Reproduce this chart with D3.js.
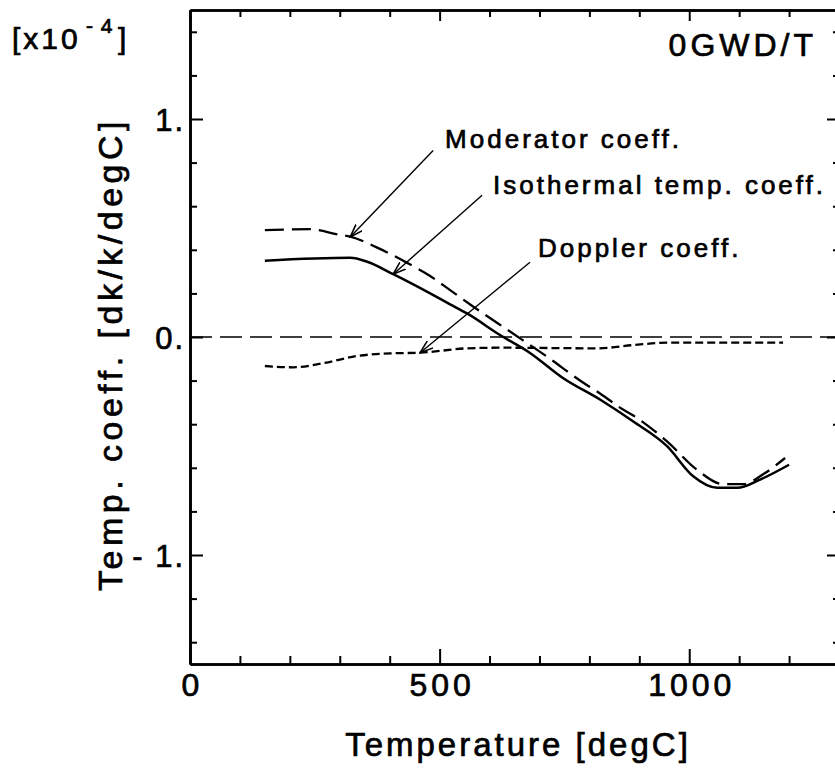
<!DOCTYPE html>
<html>
<head>
<meta charset="utf-8">
<script src="https://cdn.jsdelivr.net/npm/d3@7"></script>
<style>
  body { margin: 0; background: #fff; }
  text { font-family: "Liberation Sans", Arial, Helvetica, sans-serif; fill: #000; stroke: #000; stroke-width: 0.7px; }
</style>
</head>
<body>
<div id="chart"></div>
<script>
// values (unit: 1e-4 dk/k/degC)
var moderatorT = [150, 240, 297, 321, 375, 435, 481, 521, 567, 641, 715, 788, 822, 862, 888, 956, 1016, 1068, 1108, 1148, 1192];
var moderatorK = [0.49, 0.495, 0.47, 0.46, 0.41, 0.34, 0.28, 0.215, 0.14, 0.025, -0.09, -0.21, -0.26, -0.325, -0.36, -0.48, -0.61, -0.675, -0.675, -0.63, -0.555];

var isothermalT = [150, 321, 355, 407, 481, 521, 555, 621, 681, 747, 822, 888, 956, 1008, 1056, 1096, 1142, 1200];
var isothermalK = [0.35, 0.363, 0.345, 0.288, 0.2, 0.15, 0.108, 0.009, -0.073, -0.188, -0.288, -0.388, -0.502, -0.639, -0.692, -0.692, -0.654, -0.586];

var dopplerT = [150, 206, 267, 335, 401, 461, 555, 621, 816, 888, 956, 1188];
var dopplerK = [-0.133, -0.139, -0.12, -0.087, -0.075, -0.072, -0.052, -0.049, -0.052, -0.037, -0.026, -0.026];

var xMajor = [0, 500, 1000];
var xMinor = [100, 200, 300, 400, 600, 700, 800, 900, 1100, 1200];
var yMajor = [-1, 0, 1];
var yMinor = [-1.4, -1.2, -0.8, -0.6, -0.4, -0.2, 0.2, 0.4, 0.6, 0.8, 1.2, 1.4];
var yLabels = {"-1": "- 1.", "0": "0.", "1": "1."};

// arrow notes: label, where the text starts, where the arrow starts and where it points (data units)
var notes = [
    {text: "Moderator coeff.",         tx: 511, ty: 0.865, x0: 487, y0: 0.856, x1: 321, y1: 0.459},
    {text: "Isothermal temp. coeff.",  tx: 607, ty: 0.654, x0: 585, y0: 0.650, x1: 407, y1: 0.288},
    {text: "Doppler coeff.",           tx: 697, ty: 0.366, x0: 681, y0: 0.343, x1: 461, y1: -0.072}
];

var width = 835, height = 769;
var svg = d3.select("#chart").append("svg")
    .attr("width", width).attr("height", height);

var x = d3.scaleLinear().domain([0, 1300]).range([190, 839]);
var y = d3.scaleLinear().domain([-1.5, 1.5]).range([664, 10]);

svg.append("defs").append("marker")
    .attr("id", "head")
    .attr("viewBox", "0 0 14 10")
    .attr("refX", 13).attr("refY", 5)
    .attr("markerWidth", 14).attr("markerHeight", 10)
    .attr("markerUnits", "userSpaceOnUse")
    .attr("orient", "auto")
  .append("path")
    .attr("d", "M0,0.5L13,5L0,9.5")
    .attr("fill", "none").attr("stroke", "#000").attr("stroke-width", 1.6);

// axes, ticks pointing inward
function styleAxis(g) {
    g.select(".domain").attr("stroke-width", 2.6);
    g.selectAll(".tick line").attr("stroke-width", 2);
}

svg.append("g").attr("transform", "translate(0,664)")
    .call(d3.axisBottom(x).tickValues(xMinor).tickSize(-8).tickSizeOuter(0).tickFormat(""))
    .call(styleAxis);
svg.append("g").attr("transform", "translate(0,664)")
    .call(d3.axisBottom(x).tickValues(xMajor).tickSize(-15).tickSizeOuter(0).tickPadding(9).tickFormat(d3.format("d")))
    .call(styleAxis)
    .selectAll("text").attr("font-size", 32).attr("dx", "2px").style("letter-spacing", "4px");

svg.append("g").attr("transform", "translate(0,10)")
    .call(d3.axisTop(x).tickValues(xMinor).tickSize(-7).tickSizeOuter(0).tickFormat(""))
    .call(styleAxis);
svg.append("g").attr("transform", "translate(0,10)")
    .call(d3.axisTop(x).tickValues(xMajor).tickSize(-11).tickSizeOuter(0).tickFormat(""))
    .call(styleAxis);

svg.append("g").attr("transform", "translate(190,0)")
    .call(d3.axisLeft(y).tickValues(yMinor).tickSize(-7).tickSizeOuter(0).tickFormat(""))
    .call(styleAxis);
svg.append("g").attr("transform", "translate(190,0)")
    .call(d3.axisLeft(y).tickValues(yMajor).tickSize(-13).tickSizeOuter(0).tickPadding(5).tickFormat(d => yLabels[d]))
    .call(styleAxis)
    .selectAll("text").attr("font-size", 31).attr("dy", "0.36em").style("letter-spacing", "2px");

svg.append("g").attr("transform", "translate(839,0)")
    .call(d3.axisRight(y).tickValues(yMinor).tickSize(-6).tickSizeOuter(0).tickFormat(""))
    .call(styleAxis);
svg.append("g").attr("transform", "translate(839,0)")
    .call(d3.axisRight(y).tickValues(yMajor).tickSize(-12).tickSizeOuter(0).tickFormat(""))
    .call(styleAxis);

svg.selectAll(".domain").attr("stroke", "#000");
svg.selectAll(".tick line").attr("stroke", "#000");

// zero line
svg.append("line")
    .attr("x1", x(0)).attr("x2", x(1300))
    .attr("y1", y(0)).attr("y2", y(0))
    .attr("stroke", "#000").attr("stroke-width", 1.5)
    .attr("stroke-dasharray", "22,8");

var line = d3.line()
    .x(d => x(d[0]))
    .y(d => y(d[1]))
    .curve(d3.curveMonotoneX);

svg.append("path").datum(d3.zip(moderatorT, moderatorK))
    .attr("d", line).attr("fill", "none").attr("stroke", "#000")
    .attr("stroke-width", 2.3).attr("stroke-dasharray", "19,8");
svg.append("path").datum(d3.zip(isothermalT, isothermalK))
    .attr("d", line).attr("fill", "none").attr("stroke", "#000")
    .attr("stroke-width", 2.5);
svg.append("path").datum(d3.zip(dopplerT, dopplerK))
    .attr("d", line).attr("fill", "none").attr("stroke", "#000")
    .attr("stroke-width", 2.3).attr("stroke-dasharray", "8,4");

// notes with arrows
notes.forEach(function(n) {
    svg.append("line")
        .attr("x1", x(n.x0)).attr("y1", y(n.y0))
        .attr("x2", x(n.x1)).attr("y2", y(n.y1))
        .attr("stroke", "#000").attr("stroke-width", 1.4)
        .attr("marker-end", "url(#head)");
    svg.append("text")
        .attr("x", x(n.tx)).attr("y", y(n.ty))
        .attr("font-size", 26).style("letter-spacing", "3px")
        .text(n.text);
});

svg.append("text")
    .attr("x", x(1256)).attr("y", y(1.29))
    .attr("text-anchor", "end")
    .attr("font-size", 32).style("letter-spacing", "4px")
    .text("0GWD/T");

// exponent label
var unit = svg.append("text").attr("y", 49).attr("font-size", 30).style("letter-spacing", "3px");
unit.append("tspan").attr("x", 12).text("[x10");
unit.append("tspan").attr("x", 86).attr("y", 33).attr("font-size", 21).style("letter-spacing", "1px").text("- 4");
unit.append("tspan").attr("x", 118).attr("y", 49).text("]");

// axis titles
svg.append("text")
    .attr("x", 518).attr("y", 756)
    .attr("text-anchor", "middle")
    .attr("font-size", 33).style("letter-spacing", "3px")
    .text("Temperature [degC]");

svg.append("text")
    .attr("transform", "translate(122,354) rotate(-90)")
    .attr("text-anchor", "middle")
    .attr("font-size", 34).style("letter-spacing", "4.5px")
    .text("Temp. coeff. [dk/k/degC]");
</script>
</body>
</html>
